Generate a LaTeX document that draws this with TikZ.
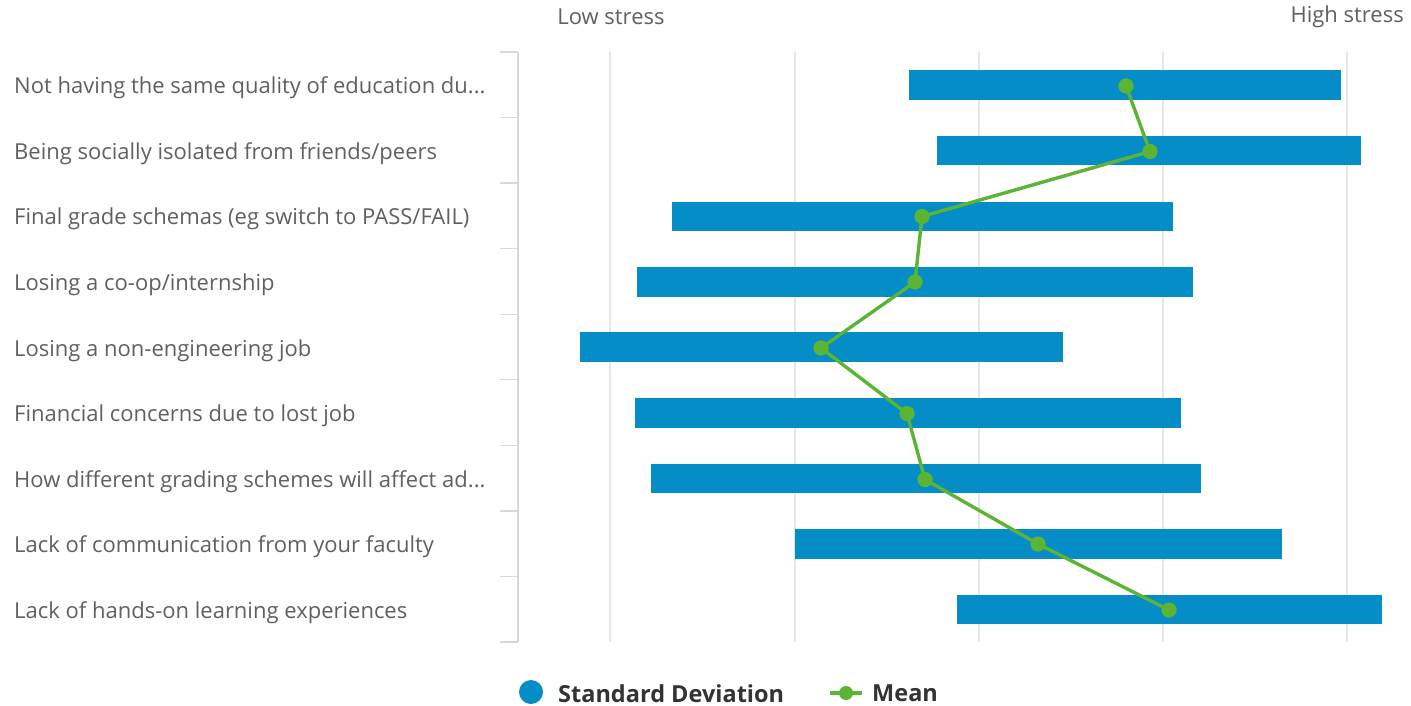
\documentclass[tikz,border=0pt]{standalone}
\usepackage{fontspec}
\setmainfont{Open Sans}
\definecolor{barblue}{HTML}{058DC7}
\definecolor{meangreen}{HTML}{5BB434}
\definecolor{labelgray}{HTML}{606060}
\definecolor{legendgray}{HTML}{333333}
\definecolor{gridgray}{HTML}{E6E6E6}
\definecolor{axisgray}{HTML}{D8D8D8}
\begin{document}
\begin{tikzpicture}[x=1pt,y=-1pt,
  catlabel/.style={anchor=west,inner sep=0pt,text=labelgray,font=\fontsize{22}{26}\selectfont},
  axtitle/.style={inner sep=0pt,text=labelgray,font=\fontsize{22}{26}\selectfont},
  legtext/.style={anchor=west,inner sep=0pt,text=legendgray,font=\fontsize{23.5}{28}\selectfont\bfseries},
  sdbar/.style={fill=barblue,draw=none},
  meanline/.style={draw=meangreen,line width=3.4pt,line join=round},
  meandot/.style={circle,fill=meangreen,inner sep=0pt,minimum size=15pt},
  grid/.style={draw=gridgray,line width=1.3pt},
  axisline/.style={draw=axisgray,line width=1.3pt}]
\useasboundingbox (0,0) rectangle (1411,706);
% gridlines
\foreach \gx in {610,795,979,1163,1347} \draw[grid] (\gx,52) -- (\gx,642);
% axis and ticks
\draw[axisline] (518,52) -- (518,642);
\foreach \k in {0,...,9} \draw[axisline] (500,{52+\k*65.56}) -- (518,{52+\k*65.56});
% axis titles
\node[axtitle] (low) at (611,17) {Low stress};
\node[axtitle,anchor=east] (high) at (1404,17) {High stress};
% category labels
\node[catlabel] (l1) at (14,88) {Not having the same quality of education du...};
\node[catlabel] (l2) at (14,154) {Being socially isolated from friends/peers};
\node[catlabel] (l3) at (14,219) {Final grade schemas (eg switch to PASS/FAIL)};
\node[catlabel] (l4) at (14,285) {Losing a co-op/internship};
\node[catlabel] (l5) at (14,351) {Losing a non-engineering job};
\node[catlabel] (l6) at (14,416) {Financial concerns due to lost job};
\node[catlabel] (l7) at (14,482) {How different grading schemes will affect ad...};
\node[catlabel] (l8) at (14,547) {Lack of communication from your faculty};
\node[catlabel] (l9) at (14,613) {Lack of hands-on learning experiences};
% bars
\fill[sdbar] (909,70.3) rectangle (1341,99.8);
\fill[sdbar] (937,135.9) rectangle (1361,165.4);
\fill[sdbar] (672,201.5) rectangle (1173,231.0);
\fill[sdbar] (637,267.0) rectangle (1193,296.5);
\fill[sdbar] (580,332.3) rectangle (1063,361.8);
\fill[sdbar] (635,398.2) rectangle (1181,427.7);
\fill[sdbar] (651,463.7) rectangle (1201,493.2);
\fill[sdbar] (795,529.3) rectangle (1282,558.8);
\fill[sdbar] (957,594.9) rectangle (1382,624.4);
% mean points
\node[meandot] (m1) at (1126,86) {};
\node[meandot] (m2) at (1150,151.5) {};
\node[meandot] (m3) at (922,216.5) {};
\node[meandot] (m4) at (915,282) {};
\node[meandot] (m5) at (821,348) {};
\node[meandot] (m6) at (907,413.5) {};
\node[meandot] (m7) at (925,479.5) {};
\node[meandot] (m8) at (1038,544) {};
\node[meandot] (m9) at (1169,610) {};
\draw[meanline] (m1.center) -- (m2.center) -- (m3.center) -- (m4.center) -- (m5.center) -- (m6.center) -- (m7.center) -- (m8.center) -- (m9.center);
\foreach \i in {1,...,9} \fill[meangreen] (m\i) circle (7.5pt);
% legend
\node[circle,fill=barblue,inner sep=0pt,minimum size=24pt] (legsd) at (531,692) {};
\node[legtext] (legsdt) at (558,693.5) {Standard Deviation};
\coordinate (lega) at (830,693);
\coordinate (legb) at (862,693);
\draw[meanline] (lega) -- (legb);
\node[meandot,minimum size=14pt] (legm) at (846,693) {};
\node[legtext] (legmt) at (872,693.5) {Mean};
\end{tikzpicture}
\end{document}
